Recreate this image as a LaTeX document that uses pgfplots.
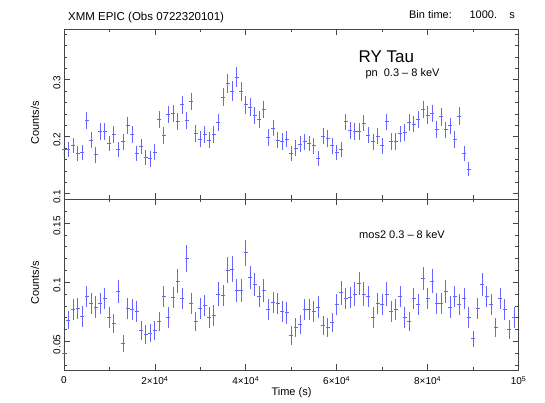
\documentclass[border=0pt]{standalone}
\usepackage{fontspec}
\setmainfont{Liberation Sans}
\usepackage{pgfplots}
\usepackage{pgfplotstable}
\pgfplotsset{compat=1.18}

\definecolor{ptblue}{RGB}{100,100,255}
\definecolor{frame}{RGB}{70,70,70}

% pn light curve: time (s), rate, error
\pgfplotstableread{
t r e
0 0.178 0.0135
1000 0.178 0.0135
2000 0.185 0.0135
3000 0.171 0.0135
4000 0.172 0.0135
5000 0.228 0.0145
6000 0.194 0.0145
7000 0.168 0.0135
8000 0.209 0.0145
9000 0.209 0.0145
10000 0.188 0.0135
11000 0.204 0.0145
12000 0.178 0.0135
13000 0.191 0.0145
14000 0.220 0.0145
15000 0.204 0.0145
16000 0.171 0.0135
17000 0.183 0.0135
18000 0.164 0.0135
19000 0.161 0.0135
20000 0.173 0.0135
21000 0.230 0.0155
22000 0.202 0.0145
23000 0.239 0.0155
24000 0.241 0.0155
25000 0.227 0.0145
26000 0.256 0.0155
27000 0.228 0.0145
28000 0.262 0.0155
29000 0.206 0.0145
30000 0.196 0.0145
31000 0.204 0.0145
32000 0.194 0.0145
33000 0.204 0.0145
34000 0.225 0.0145
35000 0.269 0.016
36000 0.293 0.017
37000 0.280 0.017
38000 0.304 0.0175
39000 0.279 0.017
40000 0.256 0.0155
41000 0.252 0.0155
42000 0.237 0.0155
43000 0.230 0.0155
44000 0.248 0.0155
45000 0.199 0.0145
46000 0.215 0.0145
47000 0.194 0.0145
48000 0.192 0.0145
49000 0.196 0.0145
50000 0.170 0.0135
51000 0.180 0.0135
52000 0.187 0.0135
53000 0.191 0.0145
54000 0.188 0.0135
55000 0.184 0.0135
56000 0.162 0.0135
57000 0.201 0.0145
58000 0.197 0.0145
59000 0.184 0.0135
60000 0.172 0.0135
61000 0.178 0.0135
62000 0.226 0.0145
63000 0.211 0.0145
64000 0.209 0.0145
65000 0.209 0.0145
66000 0.224 0.0145
67000 0.203 0.0145
68000 0.191 0.0145
69000 0.201 0.0145
70000 0.184 0.0135
71000 0.226 0.0145
72000 0.192 0.0145
73000 0.192 0.0145
74000 0.205 0.0145
75000 0.207 0.0145
76000 0.225 0.0145
77000 0.222 0.0145
78000 0.230 0.0155
79000 0.248 0.0155
80000 0.238 0.0155
81000 0.241 0.0155
82000 0.213 0.0145
83000 0.235 0.0155
84000 0.212 0.0145
85000 0.219 0.0145
86000 0.195 0.0145
87000 0.236 0.0155
88000 0.170 0.0135
89000 0.143 0.012
}\pndata

% mos2 light curve
\pgfplotstableread{
t r e
0 0.040 0.007
1000 0.068 0.008
2000 0.077 0.009
3000 0.078 0.009
4000 0.071 0.009
5000 0.088 0.009
6000 0.082 0.009
7000 0.079 0.009
8000 0.082 0.009
9000 0.086 0.009
10000 0.070 0.009
11000 0.065 0.008
12000 0.092 0.010
13000 0.048 0.007
14000 0.078 0.009
15000 0.077 0.009
16000 0.075 0.009
17000 0.059 0.008
18000 0.056 0.008
19000 0.057 0.008
20000 0.059 0.008
21000 0.067 0.008
22000 0.088 0.009
23000 0.070 0.009
24000 0.087 0.009
25000 0.101 0.010
26000 0.086 0.009
27000 0.120 0.011
28000 0.082 0.009
29000 0.067 0.008
30000 0.078 0.009
31000 0.080 0.009
32000 0.070 0.009
33000 0.072 0.009
34000 0.090 0.010
35000 0.089 0.009
36000 0.110 0.011
37000 0.111 0.011
38000 0.093 0.010
39000 0.093 0.010
40000 0.125 0.011
41000 0.104 0.010
42000 0.098 0.010
43000 0.088 0.009
44000 0.093 0.010
45000 0.077 0.009
46000 0.083 0.009
47000 0.082 0.009
48000 0.075 0.009
49000 0.074 0.009
50000 0.055 0.008
51000 0.062 0.008
52000 0.064 0.008
53000 0.077 0.009
54000 0.077 0.009
55000 0.075 0.009
56000 0.079 0.009
57000 0.063 0.008
58000 0.062 0.008
59000 0.066 0.008
60000 0.081 0.009
61000 0.091 0.010
62000 0.086 0.009
63000 0.087 0.009
64000 0.090 0.010
65000 0.099 0.010
66000 0.090 0.010
67000 0.088 0.009
68000 0.070 0.009
69000 0.082 0.009
70000 0.081 0.009
71000 0.090 0.010
72000 0.075 0.009
73000 0.077 0.009
74000 0.088 0.009
75000 0.070 0.009
76000 0.067 0.008
77000 0.086 0.009
78000 0.081 0.009
79000 0.103 0.010
80000 0.086 0.009
81000 0.101 0.010
82000 0.082 0.009
83000 0.082 0.009
84000 0.092 0.010
85000 0.079 0.009
86000 0.088 0.009
87000 0.081 0.009
88000 0.086 0.009
89000 0.070 0.009
90000 0.052 0.007
91000 0.078 0.009
92000 0.098 0.010
93000 0.088 0.009
94000 0.081 0.009
95000 0.062 0.008
96000 0.086 0.009
97000 0.077 0.009
98000 0.060 0.008
99000 0.070 0.009
}\mosdata

\pgfplotsset{
  lcpanel/.style={
    scale only axis,
    anchor=south west,
    width=454.6pt,
    xmin=0, xmax=100000,
    xtick={0,20000,40000,60000,80000,100000},
    minor xtick={10000,30000,50000,70000,90000},
    tick align=inside,
    major tick length=6pt,
    minor tick length=3.5pt,
    axis line style={frame, line width=0.8pt},
    every tick/.style={frame, line width=0.6pt},
    tick label style={font=\fontsize{10}{12}\selectfont},
    yticklabel style={rotate=90, anchor=south, xshift=-3pt},
    scaled ticks=false,
  },
  % cross: a horizontal dash mark for the bin, a vertical error bar for the rate
  lcerr/.style={
    color=ptblue, only marks, mark=-, mark size=2pt,
    mark options={ptblue, line width=0.9pt},
    error bars/.cd,
      y dir=both, y explicit,
      error mark=none,
      error bar style={line width=0.9pt, ptblue},
  },
}

\begin{document}
\begin{tikzpicture}[x=1pt,y=1pt]
\path[use as bounding box] (0,0) rectangle (545,403);

\begin{axis}[lcpanel, at={(63.9pt,204pt)}, height=170pt,
    ymin=0.0907, ymax=0.389,
    ytick={0.1,0.2,0.3}, yticklabels={0.1,0.2,0.3},
    minor ytick={0.12,0.14,0.16,0.18,0.22,0.24,0.26,0.28,0.32,0.34,0.36,0.38},
    xticklabels={}]
\addplot[lcerr] table[x=t, y=r, y error=e] {\pndata};
\end{axis}

\begin{axis}[lcpanel, at={(63.9pt,32.5pt)}, height=171.5pt,
    ymin=0.0253, ymax=0.1703,
    ytick={0.05,0.1,0.15}, yticklabels={0.05,0.1,0.15},
    minor ytick={0.03,0.04,0.06,0.07,0.08,0.09,0.11,0.12,0.13,0.14,0.16,0.17},
    xticklabels={0,2×10\textsuperscript{4},4×10\textsuperscript{4},6×10\textsuperscript{4},8×10\textsuperscript{4},10\textsuperscript{5}},
    xticklabel style={yshift=-2.5pt}]
\addplot[lcerr] table[x=t, y=r, y error=e] {\mosdata};
\end{axis}

\node[anchor=base west, font=\fontsize{11.5}{13}\selectfont] at (64.6,382) {XMM EPIC (Obs 0722320101)};
\node[anchor=base west, font=\fontsize{11}{13}\selectfont] at (405.6,384) {Bin time:};
\node[anchor=base west, font=\fontsize{11}{13}\selectfont] at (466,384) {1000.};
\node[anchor=base east, font=\fontsize{11}{13}\selectfont] at (518.5,384) {s};
\node[anchor=base west, font=\fontsize{17}{20}\selectfont] at (355,340.5) {RY Tau};
\node[anchor=base west, font=\fontsize{11}{13}\selectfont] at (362,326) {pn\ \ 0.3 – 8 keV};
\node[anchor=base west, font=\fontsize{11}{13}\selectfont] at (355.7,164) {mos2 0.3 – 8 keV};
\node[rotate=90, font=\fontsize{11}{13}\selectfont] at (35,280) {Counts/s};
\node[rotate=90, font=\fontsize{11}{13}\selectfont] at (35,120) {Counts/s};
\node[anchor=base, font=\fontsize{11}{13}\selectfont] at (291.5,7) {Time (s)};
\end{tikzpicture}
\end{document}
